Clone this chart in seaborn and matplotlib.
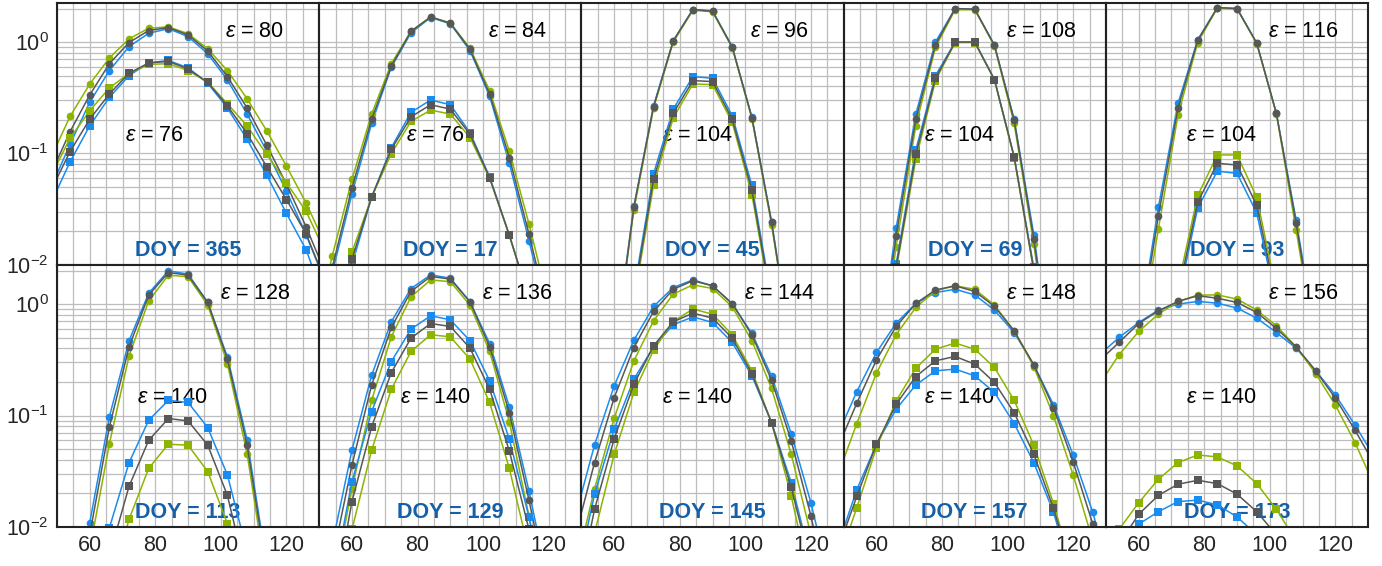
import numpy as np
import matplotlib
matplotlib.use("Agg")
import matplotlib.pyplot as plt
import seaborn as sns
from matplotlib.ticker import MultipleLocator, LogLocator, NullFormatter, FixedLocator

# ---------------- data ----------------
x_grid = [48, 54, 60, 66, 72, 78, 84, 90, 96, 102, 108, 114, 120, 126, 132]
doy_labels = [365, 17, 45, 69, 93, 113, 129, 145, 157, 173]
eps_upper = [80, 84, 96, 108, 116, 128, 136, 144, 148, 156]
eps_lower = [76, 76, 104, 104, 104, 140, 140, 140, 140, 140]
x_ticks = [60, 80, 100, 120]
N = None

# DOY 365
d365_circ_blue = [0.048, 0.121, 0.288, 0.555, 0.91, 1.2, 1.32, 1.12, 0.785, 0.457, 0.226, 0.105, 0.046, 0.0187, 0.0068]
d365_circ_gray = [0.064, 0.157, 0.335, 0.64, 0.99, 1.27, 1.35, 1.16, 0.83, 0.49, 0.256, 0.119, 0.053, 0.022, 0.0083]
d365_circ_green = [0.0896, 0.215, 0.42, 0.72, 1.07, 1.33, 1.37, 1.19, 0.87, 0.555, 0.31, 0.16, 0.077, 0.036, 0.0149]
d365_sq_blue = [0.035, 0.084, 0.177, 0.319, 0.5, 0.65, 0.684, 0.587, 0.427, 0.256, 0.134, 0.064, 0.029, 0.0137, 0.0045]
d365_sq_gray = [0.0455, 0.104, 0.203, 0.342, 0.525, 0.65, 0.67, 0.574, 0.435, 0.268, 0.151, 0.076, 0.0386, 0.019, 0.007]
d365_sq_green = [0.061, 0.137, 0.242, 0.387, 0.525, 0.63, 0.64, 0.555, 0.435, 0.28, 0.177, 0.098, 0.0545, 0.0303, 0.0127]

# DOY 17
d17_circ_blue = [0.0012, 0.0085, 0.0434, 0.186, 0.595, 1.21, 1.66, 1.46, 0.84, 0.326, 0.0815, 0.0165, 0.003, N, N]
d17_circ_gray = [0.0015, 0.0095, 0.0492, 0.203, 0.607, 1.25, 1.68, 1.48, 0.859, 0.342, 0.092, 0.0189, 0.0035, N, N]
d17_circ_green = [0.002, 0.0121, 0.0585, 0.226, 0.64, 1.25, 1.68, 1.48, 0.883, 0.366, 0.105, 0.0233, 0.0045, N, N]
d17_sq_blue = [N, 0.0018, 0.010, 0.0405, 0.113, 0.234, 0.302, 0.274, 0.154, 0.0615, 0.0185, 0.005, N, N, N]
d17_sq_gray = [N, 0.002, 0.0113, 0.0405, 0.109, 0.213, 0.274, 0.25, 0.149, 0.0606, 0.0185, 0.005, N, N, N]
d17_sq_green = [N, 0.002, 0.013, 0.0405, 0.0997, 0.194, 0.245, 0.226, 0.139, 0.0597, 0.0184, 0.005, N, N, N]

# DOY 45
d45_circ_blue = [N, N, 0.0016, 0.0336, 0.268, 1.03, 1.96, 1.9, 0.91, 0.212, 0.0245, 0.0018, N, N, N]
d45_circ_gray = [N, N, 0.0015, 0.0329, 0.263, 1.02, 1.96, 1.89, 0.90, 0.21, 0.0241, 0.0017, N, N, N]
d45_circ_green = [N, N, 0.0015, 0.0313, 0.255, 1.0, 1.93, 1.87, 0.89, 0.205, 0.023, 0.0017, N, N, N]
d45_sq_blue = [N, N, N, 0.0058, 0.0658, 0.25, 0.49, 0.473, 0.218, 0.0516, 0.005, N, N, N, N]
d45_sq_gray = [N, N, N, 0.0053, 0.0585, 0.229, 0.451, 0.442, 0.203, 0.0469, 0.0046, N, N, N, N]
d45_sq_green = [N, N, N, 0.0048, 0.052, 0.208, 0.421, 0.415, 0.19, 0.0428, 0.0042, N, N, N, N]

# DOY 69
d69_circ_blue = [N, N, 0.0012, 0.0214, 0.226, 1.0, 2.0, 1.97, 0.94, 0.203, 0.0187, 0.001, N, N, N]
d69_circ_gray = [N, N, 0.001, 0.0183, 0.203, 0.946, 2.0, 1.97, 0.933, 0.199, 0.017, 0.0009, N, N, N]
d69_circ_green = [N, N, 0.0008, 0.0146, 0.177, 0.90, 1.95, 1.95, 0.92, 0.186, 0.0154, 0.0008, N, N, N]
d69_sq_blue = [N, N, 0.0005, 0.0102, 0.1075, 0.5, 1.0, 1.0, 0.46, 0.0936, 0.0095, 0.0004, N, N, N]
d69_sq_gray = [N, N, 0.0005, 0.0095, 0.098, 0.473, 1.0, 1.0, 0.46, 0.0936, 0.009, 0.0004, N, N, N]
d69_sq_green = [N, N, 0.0004, 0.009, 0.0886, 0.451, 0.99, 0.99, 0.455, 0.092, 0.0088, 0.0004, N, N, N]

# DOY 93
d93_circ_blue = [N, N, 0.0025, 0.0329, 0.282, 1.05, 2.04, 2.0, 0.98, 0.229, 0.0255, 0.0022, N, N, N]
d93_circ_gray = [N, N, 0.0022, 0.0277, 0.256, 1.035, 2.04, 2.0, 0.98, 0.229, 0.0238, 0.002, N, N, N]
d93_circ_green = [N, N, 0.0018, 0.021, 0.222, 0.99, 2.02, 1.98, 0.97, 0.226, 0.0207, 0.0018, N, N, N]
d93_sq_blue = [N, N, N, N, 0.0048, 0.0325, 0.0695, 0.0662, 0.0293, 0.0045, N, N, N, N, N]
d93_sq_gray = [N, N, N, N, 0.0055, 0.0365, 0.0815, 0.0788, 0.0343, 0.005, N, N, N, N, N]
d93_sq_green = [N, N, N, N, 0.0065, 0.042, 0.097, 0.097, 0.0405, 0.0058, N, N, N, N, N]

# DOY 113
d113_circ_blue = [N, 0.0012, 0.0109, 0.0973, 0.469, 1.256, 1.99, 1.86, 1.04, 0.336, 0.0608, 0.0045, N, N, N]
d113_circ_gray = [N, 0.0009, 0.0085, 0.079, 0.414, 1.205, 1.92, 1.82, 1.035, 0.321, 0.0545, 0.004, N, N, N]
d113_circ_green = [N, 0.0006, 0.0062, 0.056, 0.343, 1.07, 1.82, 1.76, 0.98, 0.293, 0.0456, 0.0033, N, N, N]
d113_sq_blue = [N, N, 0.001, 0.0098, 0.0378, 0.0908, 0.137, 0.131, 0.078, 0.0293, 0.006, N, N, N, N]
d113_sq_gray = [N, N, 0.0006, 0.0055, 0.0232, 0.06, 0.094, 0.0895, 0.0542, 0.0192, 0.0035, N, N, N, N]
d113_sq_green = [N, N, 0.0003, 0.0028, 0.0117, 0.0336, 0.0553, 0.0542, 0.0314, 0.0107, 0.0018, N, N, N, N]

# DOY 129
d129_circ_blue = [N, 0.007, 0.0489, 0.230, 0.694, 1.38, 1.83, 1.71, 1.05, 0.443, 0.12, 0.021, 0.003, N, N]
d129_circ_gray = [N, 0.005, 0.036, 0.188, 0.617, 1.30, 1.77, 1.68, 1.05, 0.414, 0.106, 0.0174, 0.0025, N, N]
d129_circ_green = [N, 0.0028, 0.0218, 0.137, 0.509, 1.16, 1.65, 1.59, 0.98, 0.376, 0.0883, 0.0125, 0.0015, N, N]
d129_sq_blue = [N, 0.003, 0.0255, 0.1086, 0.305, 0.596, 0.786, 0.723, 0.469, 0.205, 0.0613, 0.0123, 0.0015, N, N]
d129_sq_gray = [N, 0.0018, 0.0169, 0.079, 0.243, 0.495, 0.67, 0.63, 0.403, 0.172, 0.0482, 0.0095, 0.0012, N, N]
d129_sq_green = [N, 0.001, 0.0095, 0.0489, 0.172, 0.376, 0.531, 0.509, 0.321, 0.131, 0.0336, 0.006, 0.0006, N, N]

# DOY 145
d145_circ_blue = [0.012, 0.0545, 0.185, 0.475, 0.953, 1.41, 1.65, 1.46, 1.01, 0.545, 0.227, 0.0689, 0.0165, 0.003, N]
d145_circ_gray = [0.008, 0.0378, 0.145, 0.408, 0.859, 1.36, 1.62, 1.46, 1.01, 0.53, 0.208, 0.0592, 0.0126, 0.002, N]
d145_circ_green = [0.004, 0.022, 0.0946, 0.31, 0.708, 1.23, 1.49, 1.38, 0.946, 0.469, 0.175, 0.045, 0.0085, 0.0012, N]
d145_sq_blue = [0.003, 0.0197, 0.0754, 0.212, 0.414, 0.652, 0.769, 0.684, 0.453, 0.227, 0.0865, 0.025, 0.005, N, N]
d145_sq_gray = [0.002, 0.0144, 0.0621, 0.191, 0.422, 0.694, 0.83, 0.749, 0.495, 0.238, 0.0865, 0.0226, 0.0045, N, N]
d145_sq_green = [0.001, 0.0088, 0.045, 0.161, 0.386, 0.70, 0.902, 0.813, 0.531, 0.252, 0.086, 0.019, 0.003, N, N]

# DOY 157
d157_circ_blue = [0.065, 0.164, 0.368, 0.675, 1.014, 1.27, 1.36, 1.21, 0.883, 0.556, 0.285, 0.125, 0.0443, 0.0135, 0.003]
d157_circ_gray = [0.05, 0.129, 0.316, 0.63, 1.014, 1.34, 1.46, 1.30, 0.953, 0.576, 0.285, 0.118, 0.0384, 0.0106, 0.0025]
d157_circ_green = [0.028, 0.0848, 0.24, 0.531, 0.933, 1.32, 1.46, 1.36, 0.98, 0.576, 0.274, 0.0993, 0.0293, 0.0075, 0.0015]
d157_sq_blue = [0.0065, 0.0216, 0.0553, 0.114, 0.188, 0.252, 0.261, 0.227, 0.161, 0.0848, 0.0378, 0.0135, 0.0035, N, N]
d157_sq_gray = [0.006, 0.0188, 0.0553, 0.126, 0.224, 0.31, 0.339, 0.289, 0.198, 0.106, 0.045, 0.0147, 0.0038, N, N]
d157_sq_green = [0.0045, 0.0149, 0.0516, 0.135, 0.266, 0.394, 0.447, 0.394, 0.27, 0.137, 0.0542, 0.0162, 0.004, N, N]

# DOY 173
d173_circ_blue = [0.35, 0.502, 0.684, 0.884, 1.0, 1.057, 1.02, 0.921, 0.749, 0.556, 0.403, 0.252, 0.153, 0.0819, 0.042]
d173_circ_gray = [0.31, 0.453, 0.67, 0.871, 1.057, 1.19, 1.13, 1.035, 0.842, 0.605, 0.414, 0.252, 0.143, 0.0738, 0.036]
d173_circ_green = [0.19, 0.351, 0.568, 0.813, 1.057, 1.205, 1.21, 1.11, 0.884, 0.639, 0.414, 0.238, 0.124, 0.0572, 0.023]
d173_sq_blue = [N, 0.005, 0.0106, 0.0137, 0.0169, 0.0174, 0.0158, 0.0123, 0.0085, 0.0055, N, N, N, N, N]
d173_sq_gray = [N, 0.007, 0.013, 0.0192, 0.0242, 0.0262, 0.0245, 0.0197, 0.0137, 0.0085, 0.005, N, N, N, N]
d173_sq_green = [N, 0.0095, 0.0165, 0.0268, 0.0378, 0.0443, 0.0425, 0.0353, 0.0245, 0.0144, 0.0075, N, N, N, N]

panels = [
    (d365_circ_blue, d365_circ_green, d365_circ_gray, d365_sq_blue, d365_sq_green, d365_sq_gray),
    (d17_circ_blue, d17_circ_green, d17_circ_gray, d17_sq_blue, d17_sq_green, d17_sq_gray),
    (d45_circ_blue, d45_circ_green, d45_circ_gray, d45_sq_blue, d45_sq_green, d45_sq_gray),
    (d69_circ_blue, d69_circ_green, d69_circ_gray, d69_sq_blue, d69_sq_green, d69_sq_gray),
    (d93_circ_blue, d93_circ_green, d93_circ_gray, d93_sq_blue, d93_sq_green, d93_sq_gray),
    (d113_circ_blue, d113_circ_green, d113_circ_gray, d113_sq_blue, d113_sq_green, d113_sq_gray),
    (d129_circ_blue, d129_circ_green, d129_circ_gray, d129_sq_blue, d129_sq_green, d129_sq_gray),
    (d145_circ_blue, d145_circ_green, d145_circ_gray, d145_sq_blue, d145_sq_green, d145_sq_gray),
    (d157_circ_blue, d157_circ_green, d157_circ_gray, d157_sq_blue, d157_sq_green, d157_sq_gray),
    (d173_circ_blue, d173_circ_green, d173_circ_gray, d173_sq_blue, d173_sq_green, d173_sq_gray),
]

# ---------------- style ----------------
sns.set_theme(style="white")
plt.rcParams["font.family"] = ["Liberation Sans", "DejaVu Sans"]
plt.rcParams["mathtext.fontset"] = "custom"
plt.rcParams["mathtext.rm"] = "Liberation Sans"
plt.rcParams["mathtext.it"] = "Liberation Sans:italic"
plt.rcParams["mathtext.bf"] = "Liberation Sans:bold"

BLUE = "#1a8cf0"
GREEN = "#8cb400"
GRAY = "#575757"
DOY_COLOR = "#1660a8"
series_style = [(BLUE, "o"), (GREEN, "o"), (GRAY, "o"),
                (BLUE, "s"), (GREEN, "s"), (GRAY, "s")]

fig, axes = plt.subplots(2, 5, figsize=(13.82, 5.66), dpi=100, sharex=True, sharey=True)
fig.subplots_adjust(left=0.0412, right=0.990, top=0.995, bottom=0.069, wspace=0, hspace=0)

x_arr = np.array(x_grid, dtype=float)
for i, ax in enumerate(axes.flat):
    for vals, (col, mk) in zip(panels[i], series_style):
        y = np.array([np.nan if v is None else v for v in vals], dtype=float)
        m = ~np.isnan(y)
        sns.lineplot(x=x_arr[m], y=y[m], ax=ax, color=col, marker=mk,
                     markersize=5.5 if mk == "o" else 5.8, markeredgewidth=0,
                     linewidth=1.1, estimator=None, sort=True, legend=False, zorder=2)
    ax.set_yscale("log")
    ax.set_xlim(50, 130)
    ax.set_ylim(0.01, 2.25)
    ax.xaxis.set_major_locator(FixedLocator(x_ticks))
    ax.xaxis.set_minor_locator(MultipleLocator(5))
    ax.yaxis.set_major_locator(LogLocator(base=10, numticks=10))
    ax.yaxis.set_minor_locator(LogLocator(base=10, subs=np.arange(2, 10), numticks=20))
    ax.yaxis.set_minor_formatter(NullFormatter())
    ax.set_axisbelow(True)
    ax.grid(True, which="both", color="#bdbdbd", linewidth=0.9)
    ax.tick_params(which="both", length=0, labelsize=15.5, pad=6)
    for sp in ax.spines.values():
        sp.set_linewidth(1.5)
        sp.set_color("#222222")
    ax.set_xlabel("")
    ax.set_ylabel("")

    xl = 79.8 if i == 0 else 85.4
    ax.text(110.4, 1.25, r"$\varepsilon$ = %d" % eps_upper[i], ha="center", va="center",
            fontsize=15.5, color="black", zorder=1.5)
    ax.text(xl, 0.145, r"$\varepsilon$ = %d" % eps_lower[i], ha="center", va="center",
            fontsize=15.5, color="black", zorder=1.5)
    ax.text(90, 0.0136, "DOY = %d" % doy_labels[i], ha="center", va="center",
            fontsize=15.5, fontweight="bold", color=DOY_COLOR, zorder=1.5)

fig.savefig("out.png", dpi=100)
